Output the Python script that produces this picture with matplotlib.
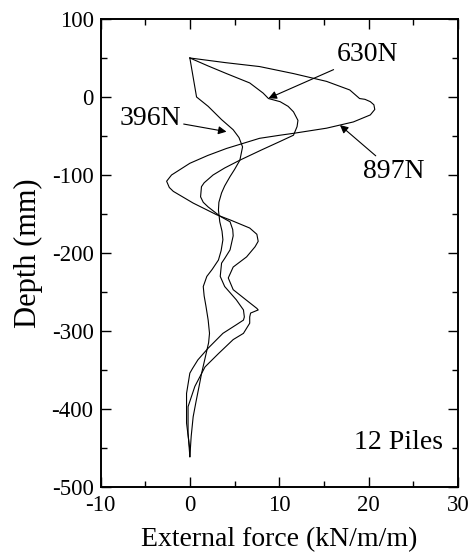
import matplotlib
matplotlib.use("Agg")
from matplotlib import pyplot as plt
from matplotlib.ticker import MultipleLocator

plt.rcParams["font.family"] = ["Liberation Serif", "DejaVu Serif"]
plt.rcParams["axes.unicode_minus"] = False

# External force (kN/m/m) and depth (mm) for each load level
force_396 = [0, 0.75, 2.05, 3.55, 4.85, 5.5, 5.9, 5.6, 5.0, 4.5, 3.9, 3.55, 3.25,
             3.2, 3.35, 3.6, 3.7, 3.5, 3.2, 2.5, 1.9, 1.5, 1.6, 1.8, 2.05, 2.2,
             2.1, 1.7, 1.3, 1.1, 0.7, 0.37, 0.15, 0]
depth_396 = [50, 0, -12, -29, -42, -52, -64, -81, -93, -102, -114, -123, -135,
             -145, -160, -172, -183, -197, -209, -221, -230, -243, -255, -268, -286, -303,
             -315, -335, -355, -367, -390, -410, -435, -461]

force_630 = [0, 2.0, 4.1, 6.7, 8.2, 8.8, 10.1, 11.0, 11.6, 12.1, 12.0, 11.6, 10.1,
             8.0, 5.6, 3.9, 2.6, 1.6, 1.3, 1.2, 1.5, 2.05, 3.4, 4.5, 4.8, 4.85,
             4.5, 3.9, 3.55, 3.4, 3.9, 5.2, 6.0, 6.1, 6.0, 5.2, 3.7, 2.05, 0.9,
             0.3, 0, -0.37, -0.37, 0, 0]
depth_630 = [50, 40, 30, 18, 5, -2, -6, -12, -19, -30, -38, -49, -57,
             -68, -81, -91, -100, -110, -115, -128, -135, -141, -153, -160, -170, -178,
             -196, -207, -213, -230, -243, -260, -273, -282, -286, -292, -303, -322, -337,
             -348, -354, -380, -418, -452, -461]

force_897 = [0, 4.0, 7.8, 11.6, 15.3, 17.9, 18.7, 19.0, 19.6, 20.2, 20.6, 20.7,
             20.2, 18.3, 15.3, 11.6, 10.1, 7.8, 4.1, 2.0, 0, -2.05, -2.6, -2.3,
             -1.85, 0.37, 3.0, 4.6, 6.7, 7.5, 7.65, 7.3, 6.35, 4.85, 4.3, 4.85,
             6.5, 7.5, 7.65, 6.8, 6.7, 6.7, 6.0, 4.85, 3.2, 1.7, 0.56, -0.2,
             -0.2, 0]
depth_897 = [50, 44, 39, 30, 20, 9, 1, -2, -3, -6, -10, -16,
             -23, -32, -40, -46.6, -49, -53, -66, -75, -85, -100, -108, -116,
             -121, -136, -151, -158, -168, -176, -185, -192, -205, -218, -232, -247,
             -262, -271, -273, -277, -282, -290, -303, -311, -329, -346, -371, -397,
             -431, -461]

x_ticks = [-10, 0, 10, 20, 30]
y_ticks = [100, 0, -100, -200, -300, -400, -500]


def main():
    fig = plt.figure(figsize=(4.73, 5.58), dpi=100)
    ax = fig.add_axes([0.2125, 0.1272, 0.7555, 0.8388])

    for xs, ys in [(force_396, depth_396), (force_630, depth_630), (force_897, depth_897)]:
        ax.plot(xs, ys, color="black", lw=0.8)

    ax.set_xlim(-10, 30)
    ax.set_ylim(-500, 100)
    ax.set_xticks(x_ticks)
    ax.set_yticks(y_ticks)
    ax.xaxis.set_minor_locator(MultipleLocator(5))
    ax.yaxis.set_minor_locator(MultipleLocator(50))
    ax.tick_params(which="both", direction="in", top=True, right=True,
                   labelsize=16.5, width=1.0)
    ax.tick_params(which="major", length=7)
    ax.tick_params(which="minor", length=4)
    ax.tick_params(axis="x", pad=6)
    ax.tick_params(axis="y", pad=5)
    for s in ax.spines.values():
        s.set_linewidth(1.4)

    ax.set_xlabel("External force (kN/m/m)", fontsize=20, labelpad=8)
    ax.set_ylabel("Depth (mm)", fontsize=22, labelpad=6)

    arrow = dict(arrowstyle="-|>", color="black", lw=0.8, mutation_scale=12,
                 shrinkA=0, shrinkB=0)
    ax.annotate("630N", xy=(8.8, -1.7), xytext=(16.4, 54), fontsize=20,
                ha="left", va="center", arrowprops=arrow)
    ax.annotate("396N", xy=(4.1, -44.5), xytext=(-1.0, -27), fontsize=20,
                ha="right", va="center", arrowprops=arrow)
    ax.annotate("897N", xy=(16.8, -36), xytext=(22.8, -79), fontsize=20,
                ha="center", va="top", arrowprops=arrow)
    ax.text(28.3, -443, "12 Piles", fontsize=20, ha="right", va="center")

    fig.savefig("out.png", dpi=100)


if __name__ == "__main__":
    main()
